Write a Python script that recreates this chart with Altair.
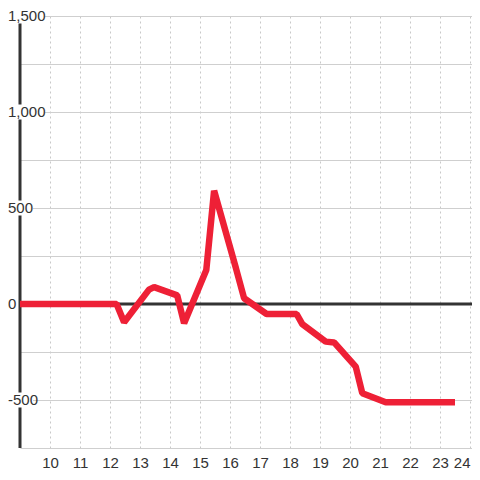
import altair as alt
import pandas as pd

# Series
hours = [9, 12.22, 12.47, 13.3, 13.47, 14.24, 14.47, 15.21, 15.47, 16.2, 16.47,
         17.22, 18.22, 18.41, 19.19, 19.47, 20.19, 20.41, 21.19, 23.5]
values = [0, 0, -95, 75, 88, 45, -100, 177, 590, 185, 30,
          -52, -52, -105, -196, -200, -326, -465, -512, -512]

x_ticks = list(range(10, 25))
y_grid = [-750, -500, -250, 0, 250, 500, 750, 1000, 1250, 1500]
y_label_values = [-500, 0, 500, 1000, 1500]
y_labels = ["-500", "0", "500", "1,000", "1,500"]

X_DOMAIN = [9, 9 + 452 / 30]
Y_DOMAIN = [-750, 1500]

FONT = "Liberation Sans"
DARK = "#333333"
RED = "#EE2036"

line_df = pd.DataFrame({"h": hours, "v": values})
lab_df = pd.DataFrame({"v": y_label_values, "label": y_labels})

xs = alt.Scale(domain=X_DOMAIN, nice=False, zero=False)
ys = alt.Scale(domain=Y_DOMAIN, nice=False, zero=False)

ax_x = alt.Axis(values=x_ticks, grid=True, gridDash=[2, 3], gridColor="#c8c8c8",
                domain=False, ticks=False, labelPadding=7, labelFontSize=15,
                labelFont=FONT, labelColor=DARK, labelFlush=3, labelOverlap=False)
ax_y = alt.Axis(values=y_grid, grid=True, gridColor="#cfcfcf", labels=False,
                domain=False, ticks=False)


def X(field):
    return alt.X(field, scale=xs, title=None, axis=ax_x)


def Y(field):
    return alt.Y(field, scale=ys, title=None, axis=ax_y)


axis_rule = alt.Chart(pd.DataFrame({"h": [X_DOMAIN[0]]})).mark_rule(
    color=DARK, strokeWidth=3).encode(x=X("h:Q"))

zero_rule = alt.Chart(pd.DataFrame({"v": [0]})).mark_rule(
    color=DARK, strokeWidth=3).encode(y=Y("v:Q"))

# white label backgrounds (break the axis line and gridlines behind labels)
bg_base = alt.Chart(lab_df).transform_calculate(
    lo="datum.v - 39", hi="datum.v + 39", n="length(datum.label)"
)
bg_long = bg_base.transform_filter("datum.n >= 5").mark_rect(color="white").encode(
    x=alt.value(-15), x2=alt.value(25), y=Y("lo:Q"), y2="hi:Q")
bg_short = bg_base.transform_filter("datum.n >= 3 && datum.n < 5").mark_rect(
    color="white").encode(x=alt.value(-15), x2=alt.value(13), y=Y("lo:Q"), y2="hi:Q")

labels = alt.Chart(lab_df).mark_text(
    align="left", baseline="middle", font=FONT, fontSize=15, color=DARK
).encode(x=alt.value(-12), y=Y("v:Q"), text="label:N")

line = alt.Chart(line_df).mark_line(
    color=RED, strokeWidth=6.5, strokeJoin="bevel"
).encode(x=X("h:Q"), y=Y("v:Q"))

chart = alt.layer(axis_rule, zero_rule, bg_long, bg_short, labels, line).properties(
    width=452, height=432,
    autosize=alt.AutoSizeParams(type="none"),
    padding={"left": 12, "top": 8, "right": 0, "bottom": 24},
    background="white",
).configure_view(stroke=None)

chart.save("out.html", embed_options={"renderer": "svg", "actions": False})
